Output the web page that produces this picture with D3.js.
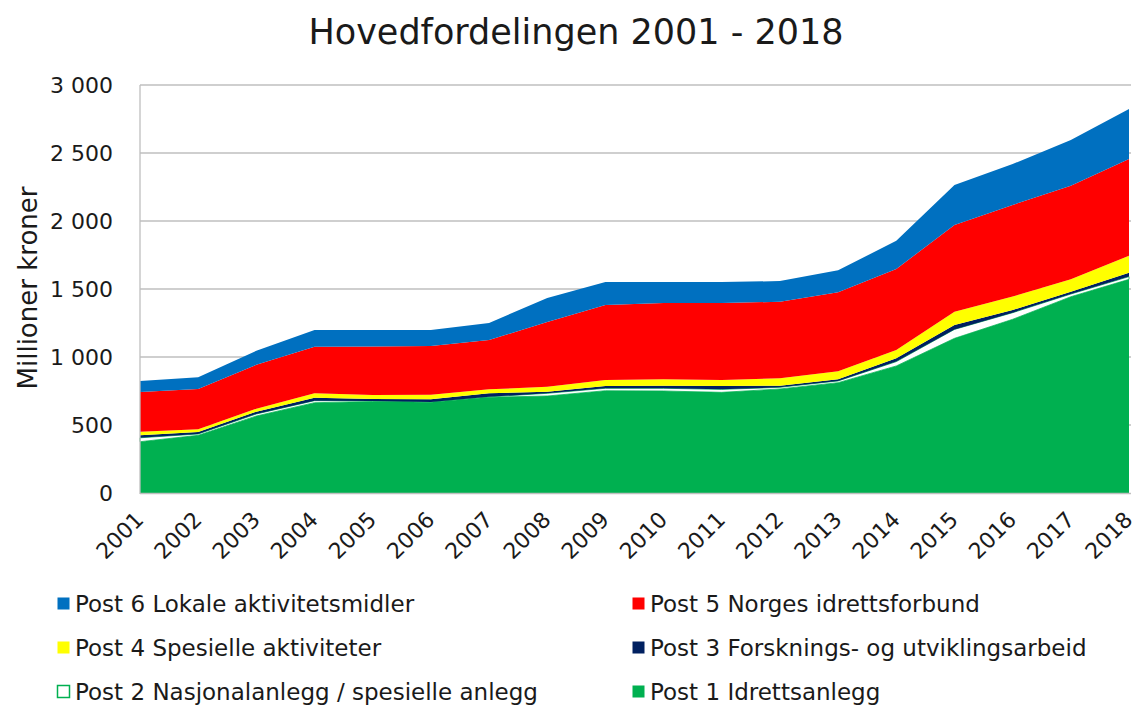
<!DOCTYPE html>
<html>
<head>
<meta charset="utf-8">
<script src="https://cdn.jsdelivr.net/npm/d3@7"></script>
<style>
  body { margin: 0; background: #fff; }
  svg { display: block; font-family: "DejaVu Sans", sans-serif; }
</style>
</head>
<body>
<svg id="chart" width="1137" height="706"></svg>
<script>
// Hovedfordelingen 2001 - 2018, stabla areal

const years = [2001, 2002, 2003, 2004, 2005, 2006, 2007, 2008, 2009,
               2010, 2011, 2012, 2013, 2014, 2015, 2016, 2017, 2018];

// millioner kroner, lest av figuren
const post1 = [377, 424, 566, 664, 672, 667, 704, 713, 752, 750, 740, 765, 811, 934, 1137, 1277, 1443, 1571];
const post2 = [29, 10, 15, 15, 5, 2, 3, 20, 18, 20, 22, 12, 13, 32, 66, 49, 20, 20];
const post3 = [18, 15, 17, 22, 14, 20, 26, 12, 17, 19, 25, 12, 12, 24, 32, 20, 17, 29];
const post4 = [27, 19, 22, 32, 29, 33, 29, 37, 44, 47, 44, 55, 59, 61, 98, 98, 91, 125];
const post5 = [292, 297, 323, 343, 358, 358, 363, 475, 551, 561, 566, 562, 581, 596, 638, 674, 689, 711];
const post6 = [81, 86, 103, 123, 121, 119, 125, 177, 169, 154, 154, 152, 161, 208, 294, 301, 336, 368];

const seriesNames = [
    "Post 1 Idrettsanlegg",
    "Post 2 Nasjonalanlegg / spesielle anlegg",
    "Post 3 Forsknings- og utviklingsarbeid",
    "Post 4 Spesielle aktiviteter",
    "Post 5 Norges idrettsforbund",
    "Post 6 Lokale aktivitetsmidler"
];
const seriesColors = ["#00B050", "#FFFFFF", "#002060", "#FFFF00", "#FF0000", "#0070C0"];

const yTicks = [0, 500, 1000, 1500, 2000, 2500, 3000];
const title = "Hovedfordelingen 2001 - 2018";
const yTitle = "Millioner kroner";

// legend order as in the picture: [row][col] -> series index
const legendOrder = [[5, 4], [3, 2], [1, 0]];

const cfg = {
    plot: { left: 140, right: 1129, top: 85, bottom: 493 },
    grid: "#BFBFBF",
    text: "#1a1a1a"
};

const svg = d3.select("#chart");

const x = d3.scalePoint().domain(years).range([cfg.plot.left, cfg.plot.right]);
const y = d3.scaleLinear().domain([0, 3000]).range([cfg.plot.bottom, cfg.plot.top]);

const table = years.map((yr, i) => ({
    year: yr, s0: post1[i], s1: post2[i], s2: post3[i], s3: post4[i], s4: post5[i], s5: post6[i]
}));
const keys = ["s0", "s1", "s2", "s3", "s4", "s5"];
const stacked = d3.stack().keys(keys)(table);

// gridlines
svg.append("g").selectAll("line").data(yTicks.filter(t => t > 0)).join("line")
    .attr("x1", cfg.plot.left).attr("x2", cfg.plot.right + 2)
    .attr("y1", d => y(d)).attr("y2", d => y(d))
    .attr("stroke", cfg.grid).attr("stroke-width", 1.3);

// areas
const area = d3.area()
    .x(d => x(d.data.year))
    .y0(d => y(d[0]))
    .y1(d => y(d[1]));

svg.append("g").selectAll("path").data(stacked).join("path")
    .attr("d", area)
    .attr("fill", (d, i) => seriesColors[i])
    .attr("stroke", (d, i) => i === 1 ? "#00B050" : "none")
    .attr("stroke-width", 0.8);

// axis lines
svg.append("line").attr("x1", cfg.plot.left).attr("x2", cfg.plot.left)
    .attr("y1", cfg.plot.top).attr("y2", cfg.plot.bottom + 1)
    .attr("stroke", cfg.grid).attr("stroke-width", 1.3);
svg.append("line").attr("x1", cfg.plot.left).attr("x2", cfg.plot.right + 2)
    .attr("y1", cfg.plot.bottom + 0.5).attr("y2", cfg.plot.bottom + 0.5)
    .attr("stroke", cfg.grid).attr("stroke-width", 1.5);

// y tick labels
const fmt = v => d3.format(",")(v).replace(/,/g, " ");
svg.append("g").selectAll("text").data(yTicks).join("text")
    .attr("x", 113).attr("y", d => y(d))
    .attr("dy", "0.36em")
    .attr("text-anchor", "end")
    .attr("font-size", 22)
    .attr("fill", cfg.text)
    .text(fmt);

// x tick labels
svg.append("g").selectAll("text").data(years).join("text")
    .attr("transform", d => `translate(${x(d) + 5},${521}) rotate(-45)`)
    .attr("text-anchor", "end")
    .attr("font-size", 22)
    .attr("fill", cfg.text)
    .text(d => d);

// title
svg.append("text").attr("x", 576).attr("y", 44)
    .attr("text-anchor", "middle").attr("font-size", 35)
    .attr("fill", cfg.text).text(title);

// y title
svg.append("text")
    .attr("transform", `translate(37,${288}) rotate(-90)`)
    .attr("text-anchor", "middle").attr("font-size", 26)
    .attr("fill", cfg.text).text(yTitle);

// legend
const legend = svg.append("g");
const colX = [57, 632];
const rowY = [604, 648, 692];
legendOrder.forEach((row, r) => row.forEach((si, c) => {
    const g = legend.append("g").attr("transform", `translate(${colX[c]},${rowY[r]})`);
    g.append("rect").attr("x", 0.5).attr("y", -6.5).attr("width", 12).attr("height", 12)
        .attr("fill", seriesColors[si])
        .attr("stroke", si === 1 ? "#00B050" : "none").attr("stroke-width", 1.5);
    g.append("text").attr("x", 18).attr("y", 0).attr("dy", "0.36em")
        .attr("font-size", 23).attr("fill", cfg.text).text(seriesNames[si]);
}));
</script>
</body>
</html>
